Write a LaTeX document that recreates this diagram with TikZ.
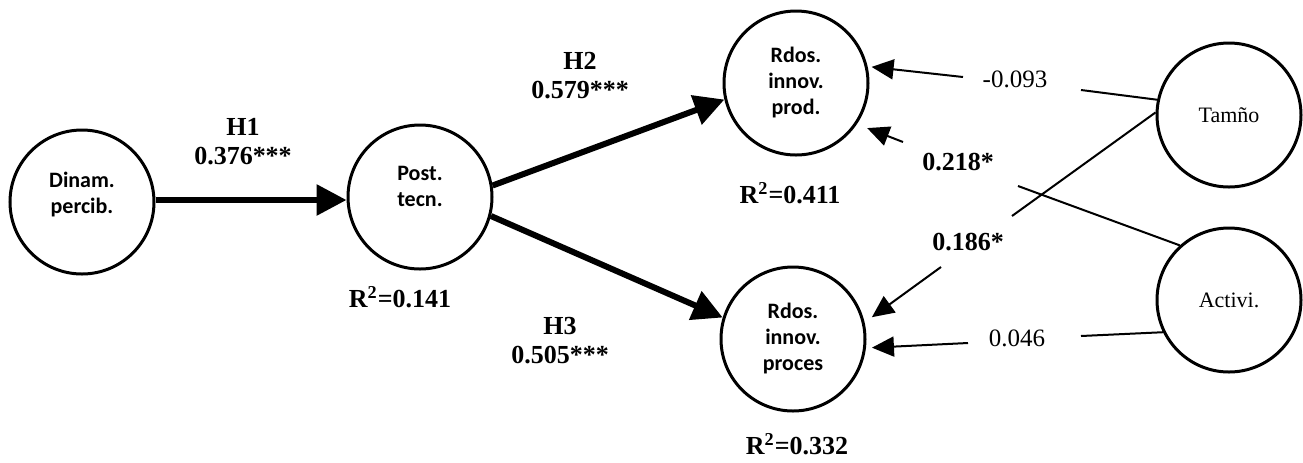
\documentclass[tikz,border=0pt]{standalone}
\usepackage{fontspec}
\setmainfont{Liberation Serif}
\newfontfamily\nodefont{Carlito}
\usetikzlibrary{arrows.meta}

\begin{document}
\begin{tikzpicture}[x=0.5pt,y=-0.5pt,
  latent/.style={circle, draw, line width=1.5pt, minimum size=72pt, inner sep=0pt},
  ltext/.style={font=\nodefont\bfseries\fontsize{11}{13}\selectfont, align=center, inner sep=0pt},
  ctext/.style={font=\fontsize{11}{13}\selectfont},
  blab/.style={font=\bfseries\fontsize{13}{14.5}\selectfont, align=center, inner sep=0pt},
  rlab/.style={font=\fontsize{12.5}{15}\selectfont, inner sep=0pt},
  bigarrow/.style={line width=3pt, -{Triangle[length=15pt,width=15pt]}},
  thinline/.style={line width=1pt},
  thinarrow/.style={line width=1pt, -{Triangle[length=11pt,width=10pt]}},
]
\useasboundingbox (0,0) rectangle (1303,462);

% circles
\node[latent] (dinam) at (82,202) {};
\node[ltext] (dinamt) at (82,195) {Dinam.\\percib.};
\node[latent] (post) at (420,197) {};
\node[ltext] (postt) at (420,186) {Post.\\tecn.};
\node[latent, font=\nodefont\bfseries\fontsize{11}{13}\selectfont, align=center] (prod) at (796,83) {Rdos.\\innov.\\prod.};
\node[latent, font=\nodefont\bfseries\fontsize{11}{13}\selectfont, align=center] (proces) at (793,339) {Rdos.\\innov.\\proces};
\node[latent, ctext] (tam) at (1229,115) {Tamño};
\node[latent, ctext] (act) at (1229,300) {Activi.};

% main paths
\coordinate (h1) at (0,200);
\draw[bigarrow] (dinam.east |- h1) -- (post.west |- h1);
\draw[bigarrow] (post.9) -- (prod.193);
\draw[bigarrow] (post.345) -- (proces.163);

% control paths
\coordinate (b1) at (1081,90);
\coordinate (b2) at (963,77);
\draw[thinline] (tam.168) -- (b1);
\draw[thinarrow, shorten >=2pt] (b2) -- (prod.13);

\coordinate (b3) at (1018,186);
\coordinate (b4) at (903,142);
\draw[thinline] (act.132) -- (b3);
\draw[thinarrow, shorten >=5.5pt] (b4) -- (prod.326);

\coordinate (b5) at (1012,216);
\coordinate (b6) at (941,267);
\draw[thinline] (tam.178) -- (b5);
\draw[thinarrow, shorten >=4.5pt] (b6) -- (proces.13);

\coordinate (b7) at (1081,336);
\coordinate (b8) at (968,343);
\draw[thinline] (act.206) -- (b7);
\draw[thinarrow, shorten >=3pt] (b8) -- (proces.353);

% labels
\node[blab] (lh1) at (243,142) {H1\\0.376***};
\node[blab] (lh2) at (580,76) {H2\\0.579***};
\node[blab] (lh3) at (560,341) {H3\\0.505***};
\node[blab] (r1) at (400,297) {R\textsuperscript{2}=0.141};
\node[blab] (r2) at (790,193) {R\textsuperscript{2}=0.411};
\node[blab] (r3) at (797,444) {R\textsuperscript{2}=0.332};
\node[rlab] (v1) at (1015,79) {-0.093};
\node[blab] (v2) at (958,162) {0.218*};
\node[blab] (v3) at (968,242) {0.186*};
\node[rlab] (v4) at (1017,338) {0.046};
\end{tikzpicture}
\end{document}
